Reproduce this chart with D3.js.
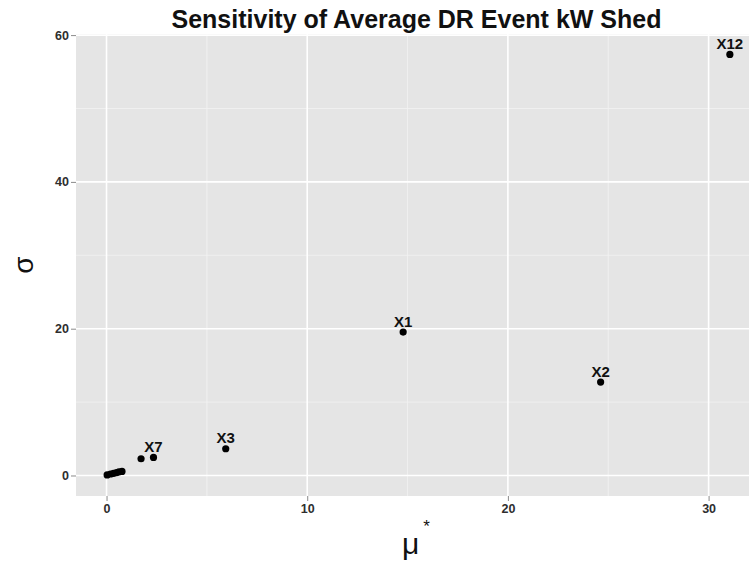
<!DOCTYPE html>
<html>
<head>
<meta charset="utf-8">
<script src="https://cdn.jsdelivr.net/npm/d3@7"></script>
<style>
  html, body { margin: 0; padding: 0; background: #ffffff; }
  svg { display: block; }
  text { font-family: "Liberation Sans", Arial, Helvetica, sans-serif; }
</style>
</head>
<body>
<svg id="chart" width="749" height="562"></svg>
<script>
// Morris screening results: mean absolute elementary effect vs. its spread
const labels = ["", "", "", "", "", "", "", "X7", "X3", "X1", "X2", "X12"];
const muStar = [0.03, 0.2, 0.35, 0.5, 0.62, 0.77, 1.72, 2.34, 5.94, 14.78, 24.62, 31.06];
const sigma  = [0.07, 0.2, 0.3, 0.4, 0.48, 0.55, 2.28, 2.46, 3.64, 19.54, 12.72, 57.37];

const xMajor = [0, 10, 20, 30];
const xMinor = [5, 15, 25];
const yMajor = [0, 20, 40, 60];
const yMinor = [10, 30, 50];

const titleText = "Sensitivity of Average DR Event kW Shed";

const panel = { left: 76, top: 34, right: 761, bottom: 496 };

const svg = d3.select("#chart");

// ggplot-style 5% expansion around the data range
const xMin = d3.min(muStar), xMax = d3.max(muStar);
const yMin = d3.min(sigma), yMax = d3.max(sigma);
const xPad = (xMax - xMin) * 0.05, yPad = (yMax - yMin) * 0.05;

const x = d3.scaleLinear()
  .domain([xMin - xPad, xMax + xPad])
  .range([panel.left, panel.right]);
const y = d3.scaleLinear()
  .domain([yMin - yPad, 60.15])
  .range([panel.bottom, panel.top]);

svg.append("defs").append("clipPath").attr("id", "panel-clip")
  .append("rect")
  .attr("x", panel.left).attr("y", panel.top)
  .attr("width", panel.right - panel.left)
  .attr("height", panel.bottom - panel.top);

const g = svg.append("g").attr("clip-path", "url(#panel-clip)");

g.append("rect")
  .attr("x", panel.left).attr("y", panel.top)
  .attr("width", panel.right - panel.left)
  .attr("height", panel.bottom - panel.top)
  .attr("fill", "#e5e5e5");

// minor grid
g.selectAll("line.xminor").data(xMinor).enter().append("line")
  .attr("x1", d => x(d)).attr("x2", d => x(d))
  .attr("y1", panel.top).attr("y2", panel.bottom)
  .attr("stroke", "#f2f2f2").attr("stroke-width", 0.8);
g.selectAll("line.yminor").data(yMinor).enter().append("line")
  .attr("y1", d => y(d)).attr("y2", d => y(d))
  .attr("x1", panel.left).attr("x2", panel.right)
  .attr("stroke", "#f2f2f2").attr("stroke-width", 0.8);

// major grid
g.selectAll("line.xmajor").data(xMajor).enter().append("line")
  .attr("x1", d => x(d)).attr("x2", d => x(d))
  .attr("y1", panel.top).attr("y2", panel.bottom)
  .attr("stroke", "#ffffff").attr("stroke-width", 1.6);
g.selectAll("line.ymajor").data(yMajor).enter().append("line")
  .attr("y1", d => y(d)).attr("y2", d => y(d))
  .attr("x1", panel.left).attr("x2", panel.right)
  .attr("stroke", "#ffffff").attr("stroke-width", 1.6);

// axes
const xAxis = d3.axisBottom(x).tickValues(xMajor).tickSize(5).tickPadding(3);
const yAxis = d3.axisLeft(y).tickValues(yMajor).tickSize(5).tickPadding(2);

const gx = svg.append("g").attr("transform", `translate(0,${panel.bottom})`).call(xAxis);
const gy = svg.append("g").attr("transform", `translate(${panel.left},0)`).call(yAxis);
[gx, gy].forEach(a => {
  a.select(".domain").remove();
  a.selectAll(".tick line").attr("stroke", "#8a8a8a").attr("stroke-width", 1);
  a.selectAll(".tick text")
    .attr("fill", "#2e2e2e")
    .style("font-size", "12.5px")
    .style("font-weight", "bold")
    .style("font-family", "'Liberation Sans', Arial, sans-serif");
});

// points
const pts = muStar.map((m, i) => ({ m, s: sigma[i], label: labels[i] }));
g.selectAll("circle.pt").data(pts).enter().append("circle")
  .attr("cx", d => x(d.m)).attr("cy", d => y(d.s))
  .attr("r", 3.6).attr("fill", "#000000");

// point labels
g.selectAll("text.lbl").data(pts.filter(d => d.label)).enter().append("text")
  .attr("x", d => x(d.m)).attr("y", d => y(d.s) - 5.5)
  .attr("text-anchor", "middle")
  .style("font-size", "15px").style("font-weight", "bold")
  .attr("fill", "#111111")
  .text(d => d.label);

// title
svg.append("text")
  .attr("x", (panel.left + panel.right) / 2 - 2).attr("y", 28)
  .attr("text-anchor", "middle")
  .style("font-size", "25px").style("font-weight", "bold")
  .attr("fill", "#111111")
  .text(titleText);

// axis titles
const xt = svg.append("text")
  .attr("x", 402).attr("y", 554)
  .attr("fill", "#111111")
  .style("font-size", "30px");
xt.append("tspan").text("μ");
xt.append("tspan").attr("dx", 4).attr("dy", -22).style("font-size", "17px").text("*");

svg.append("text")
  .attr("transform", `translate(33,${(panel.top + panel.bottom) / 2}) rotate(-90)`)
  .attr("text-anchor", "middle")
  .attr("fill", "#111111")
  .style("font-size", "28px")
  .text("σ");
</script>
</body>
</html>
